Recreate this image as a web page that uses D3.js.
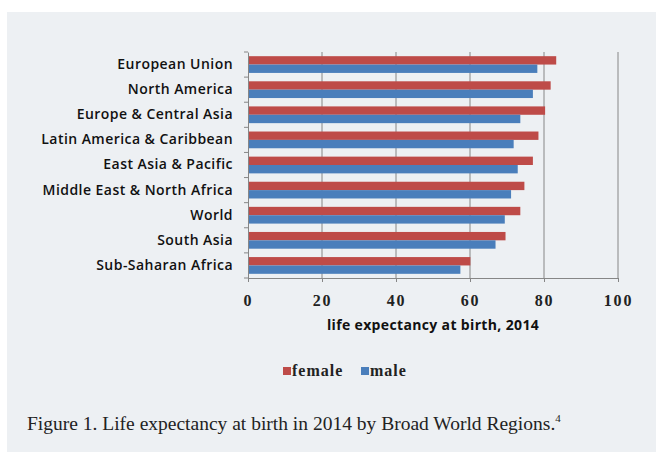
<!DOCTYPE html>
<html><head><meta charset="utf-8">
<script src="https://cdn.jsdelivr.net/npm/d3@7"></script>
<style>html,body{margin:0;padding:0;background:#fff;}svg{display:block;}</style>
</head><body>
<script>
const categories = ["European Union","North America","Europe & Central Asia","Latin America & Caribbean","East Asia & Pacific","Middle East & North Africa","World","South Asia","Sub-Saharan Africa"];
const female = [83.3,81.8,80.3,78.5,77.0,74.7,73.6,69.6,60.1];
const male = [78.2,77.0,73.6,71.8,72.9,71.1,69.4,66.9,57.4];
const seriesNames = ["female","male"];
const xTicks = [0,20,40,60,80,100];
const axisTitle = "life expectancy at birth, 2014";
const caption = "Figure 1. Life expectancy at birth in 2014 by Broad World Regions.";
const captionNote = "4";

const W = 656, H = 454;
const colors = {female:"#be4b48", male:"#4a7ebb"};
const svg = d3.select("body").append("svg").attr("width",W).attr("height",H);
svg.append("rect").attr("x",7).attr("y",12).attr("width",W-7).attr("height",440).attr("fill","#edf0f3");

const x = d3.scaleLinear().domain([0,100]).range([248,618]);
const y = d3.scaleBand().domain(categories).range([52,278]);
const inner = d3.scaleBand().domain(seriesNames).range([0,y.bandwidth()]).paddingInner(0).paddingOuter(0.5);

// gridlines
svg.append("g").selectAll("line").data(xTicks.filter(d=>d>0)).join("line")
  .attr("x1",d=>x(d)).attr("x2",d=>x(d)).attr("y1",52).attr("y2",278)
  .attr("stroke","#868686").attr("stroke-width",1);

// bars
const rows = categories.map((c,i)=>({c, female:female[i], male:male[i]}));
const g = svg.append("g");
seriesNames.forEach(s=>{
  g.selectAll("rect."+s).data(rows).join("rect").attr("class",s)
    .attr("x",x(0)).attr("y",d=>y(d.c)+inner(s))
    .attr("width",d=>x(d[s])-x(0)).attr("height",inner.bandwidth())
    .attr("fill",colors[s]);
});

// axes
const xAxis = d3.axisBottom(x).tickValues(xTicks).tickSize(4).tickFormat(d3.format("d"));
const xg = svg.append("g").attr("transform","translate(0,278)").call(xAxis);
xg.select(".domain").attr("stroke","#868686");
xg.selectAll(".tick line").attr("stroke","#868686");
xg.selectAll(".tick text").attr("y",17).attr("font-family","Liberation Serif").attr("font-weight","bold")
  .attr("font-size",16).attr("fill","#222").attr("letter-spacing","1.8px");

const yAxis = d3.axisLeft(y).tickSize(0).tickPadding(15);
const yg = svg.append("g").attr("transform","translate(248,0)").call(yAxis);
yg.select(".domain").attr("stroke","#868686");
yg.selectAll(".tick text").attr("font-family","Open Sans, Liberation Sans").attr("font-weight","600")
  .attr("font-size",14).attr("fill","#111").attr("letter-spacing","0.45px");
// category boundary ticks
svg.append("g").selectAll("line").data(d3.range(categories.length+1)).join("line")
  .attr("x1",244).attr("x2",248)
  .attr("y1",i=>52+i*y.step()).attr("y2",i=>52+i*y.step())
  .attr("stroke","#868686");

svg.append("text").attr("x",433).attr("y",330).attr("text-anchor","middle")
  .attr("font-family","Open Sans, Liberation Sans").attr("font-weight","bold").attr("font-size",14)
  .attr("fill","#111").attr("letter-spacing","0.35px").text(axisTitle);

// legend
const leg = svg.append("g");
const legX = [283,361];
seriesNames.forEach((s,i)=>{
  leg.append("rect").attr("x",legX[i]).attr("y",367).attr("width",8).attr("height",8).attr("fill",colors[s]);
  leg.append("text").attr("x",legX[i]+9).attr("y",376).attr("font-family","Liberation Serif")
    .attr("font-weight","bold").attr("font-size",16).attr("fill","#222").attr("letter-spacing","1px").text(s);
});

// caption
const cap = svg.append("text").attr("x",27).attr("y",430).attr("font-family","Liberation Serif")
  .attr("font-size",19.5).attr("fill","#222");
cap.append("tspan").text(caption);
cap.append("tspan").attr("dy",-8).attr("font-size",11).text(captionNote);
</script>
</body></html>
